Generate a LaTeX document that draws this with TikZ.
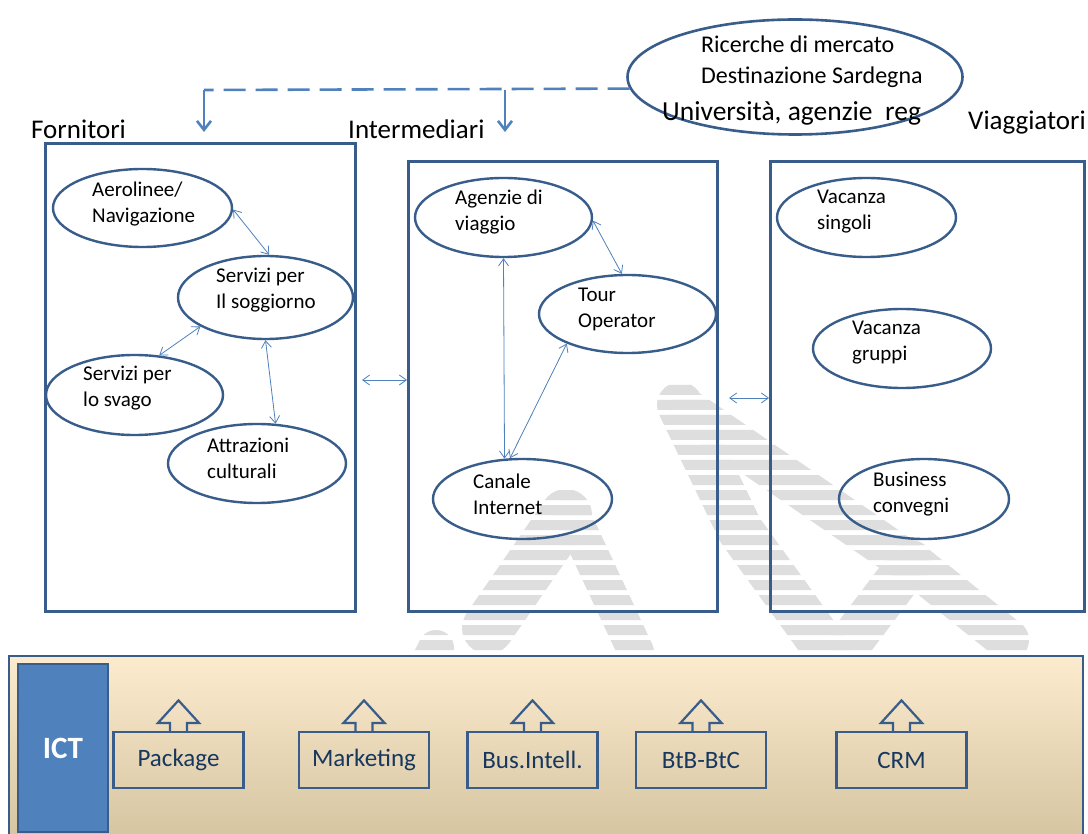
\documentclass[tikz,border=0pt]{standalone}
\usepackage{fontspec}
\setmainfont{Carlito}
\usetikzlibrary{shapes.geometric,arrows.meta,calc}
\definecolor{dkb}{HTML}{385D8A}
\definecolor{ltb}{HTML}{4F81BD}
\definecolor{navy}{HTML}{17375E}
\definecolor{peach}{HTML}{FDEBCF}
\definecolor{pmid}{HTML}{F1EAD9}
\definecolor{ptan}{HTML}{D3C39E}
\definecolor{wmgray}{HTML}{DEDEDE}
\begin{document}
\begin{tikzpicture}[x=1pt,y=-1pt,
  bigbox/.style={draw=dkb, line width=2.6pt, anchor=north west, inner sep=0},
  ell/.style={ellipse, draw=dkb, line width=2.4pt, inner sep=0},
  etext/.style={align=left, anchor=west, inner sep=0, font=\fontsize{21}{26}\selectfont},
  hdr/.style={anchor=base west, inner sep=0, font=\fontsize{27}{32}\selectfont},
  conn/.style={draw=ltb, line width=0.8pt, {Straight Barb[length=7pt,width=10pt]}-{Straight Barb[length=7pt,width=10pt]}},
  dasharr/.style={draw=ltb, line width=2.6pt, -{Straight Barb[length=9pt,width=14pt]}},
  callout/.style={draw=dkb, line width=2.2pt, minimum width=130pt, minimum height=56pt, inner sep=0, text=navy, font=\fontsize{25}{29}\selectfont},
  rtext/.style={anchor=base west, inner sep=0},
  wm/.style={draw=wmgray, line cap=round, line join=round}
]
\clip (0,0) rectangle (1088,834);
\fill[white] (0,0) rectangle (1088,834);

% watermark (striped logo in the background)
\begin{scope}
\clip \foreach \i in {0,...,18} {(380,{385+15*\i}) rectangle (1088,{395+15*\i})};
\draw[wm, line width=46pt] (680,405) -- (740,530) -- (828,652);
\draw[wm, line width=42pt] (690,412) -- (905,560);
\draw[wm, line width=44pt] (911,562) -- (852,640);
\draw[wm, line width=42pt] (911,562) -- (1008,640);
\draw[wm, line width=52pt] (566,515) -- (488,628);
\draw[wm, line width=36pt] (572,515) -- (636,652);
\draw[wm, line width=36pt] (436,648) -- (415,690);
\end{scope}

% research ellipse
\node[ell, line width=2.6pt, minimum width=335pt, minimum height=115pt] (res) at (795,77) {};
\node[rtext, font=\fontsize{24}{28}\selectfont] (r1) at (701,53) {Ricerche di mercato};
\node[rtext, font=\fontsize{24}{28}\selectfont] (r2) at (701,84) {Destinazione Sardegna};
\node[rtext, font=\fontsize{27.5}{31}\selectfont] (r3) at (662,121) {Università, agenzie~~reg};

% headers
\node[hdr] (hf) at (31,139) {Fornitori};
\node[hdr] (hi) at (348,139) {Intermediari};
\node[hdr] (hv) at (968,130) {Viaggiatori};

% big boxes
\node[bigbox, minimum width=310pt, minimum height=468pt] (forn) at (44,142) {};
\node[bigbox, minimum width=309pt, minimum height=450pt] (inter) at (407,160) {};
\node[bigbox, minimum width=314pt, minimum height=450pt] (viag) at (769,160) {};

% dashed connector
\coordinate (fa) at (204,132);
\coordinate (ia) at (505,132);
\coordinate (dj) at (204,90);
\draw[ltb, line width=2.6pt, dash pattern=on 22pt off 10pt] (res.184.5) -- (dj);
\draw[dasharr] (dj) -- (fa);
\draw[dasharr] (ia |- dj) -- (ia);

% Fornitori ellipses
\node[ell, minimum width=179pt, minimum height=78pt] (aer) at (142.5,208) {};
\node[etext] (aer-t) at (92,204) {Aerolinee/\\Navigazione};
\node[ell, minimum width=175pt, minimum height=83pt] (sog) at (265.5,297.5) {};
\node[etext] (sog-t) at (216,290.5) {Servizi per\\Il soggiorno};
\node[ell, minimum width=177pt, minimum height=80pt] (sva) at (134.5,395) {};
\node[etext] (sva-t) at (83,388) {Servizi per\\lo svago};
\node[ell, minimum width=178pt, minimum height=79pt] (att) at (257,463.5) {};
\node[etext] (att-t) at (207,458.5) {Attrazioni\\culturali};

\draw[conn] (aer.-1) -- (sog.85);
\draw[conn] (sog.204) -- (sva.58);
\draw[conn] (sog.270) -- (att.65);

% Intermediari ellipses
\node[ell, minimum width=177pt, minimum height=79pt] (age) at (503.5,217.5) {};
\node[etext] (age-t) at (455,212) {Agenzie di\\viaggio};
\node[ell, minimum width=177pt, minimum height=78pt] (tou) at (627.5,314) {};
\node[etext] (tou-t) at (578,309.7) {Tour\\Operator};
\node[ell, minimum width=179pt, minimum height=80pt] (can) at (522.5,499) {};
\node[etext] (can-t) at (473,494) {Canale\\Internet};

\draw[conn] (age.-2) -- (tou.98);
\draw[conn] (age.south) -- (can.114);
\draw[conn] (tou.206) -- (can.107);

% Viaggiatori ellipses
\node[ell, minimum width=179pt, minimum height=79pt] (vsi) at (866.5,217.5) {};
\node[etext] (vsi-t) at (817,211.5) {Vacanza\\singoli};
\node[ell, minimum width=178pt, minimum height=79pt] (vgr) at (902,348.5) {};
\node[etext] (vgr-t) at (852,343) {Vacanza\\gruppi};
\node[ell, minimum width=170pt, minimum height=80pt] (bus) at (924,499) {};
\node[etext] (bus-t) at (873,494) {Business\\convegni};

% links between boxes
\coordinate (c1) at (362,380);
\draw[conn] (c1) -- (c1 -| inter.west);
\coordinate (c2) at (729,398);
\draw[conn] (c2) -- (c2 -| viag.west);

% ICT panel
\node[draw=dkb, line width=2pt, top color=peach, middle color=pmid, bottom color=ptan,
      minimum width=1074pt, minimum height=190pt, anchor=north west, inner sep=0] (panel) at (8,655) {};
\node[draw=dkb, fill=ltb, line width=2pt, minimum width=90pt, minimum height=168pt, anchor=north west,
      inner sep=0, text=white, font=\bfseries\fontsize{31}{35}\selectfont] (ict) at (17,663) {ICT};

\foreach \n/\t/\x in {pk/Package/178.5, mk/Marketing/364, bi/Bus.Intell./532.5, bb/BtB-BtC/701, cr/CRM/901.5}{
  \node[callout] (\n) at (\x,760) {\t};
  \draw[dkb, line width=2.2pt, line join=miter]
    ([xshift=-8.5pt]\n.north) -- ++(0pt,8pt) -- ++(-12pt,0pt) -- ++(20.5pt,22.5pt)
    -- ++(20.5pt,-22.5pt) -- ++(-12pt,0pt) -- ++(0pt,-8pt);
}
\end{tikzpicture}
\end{document}
